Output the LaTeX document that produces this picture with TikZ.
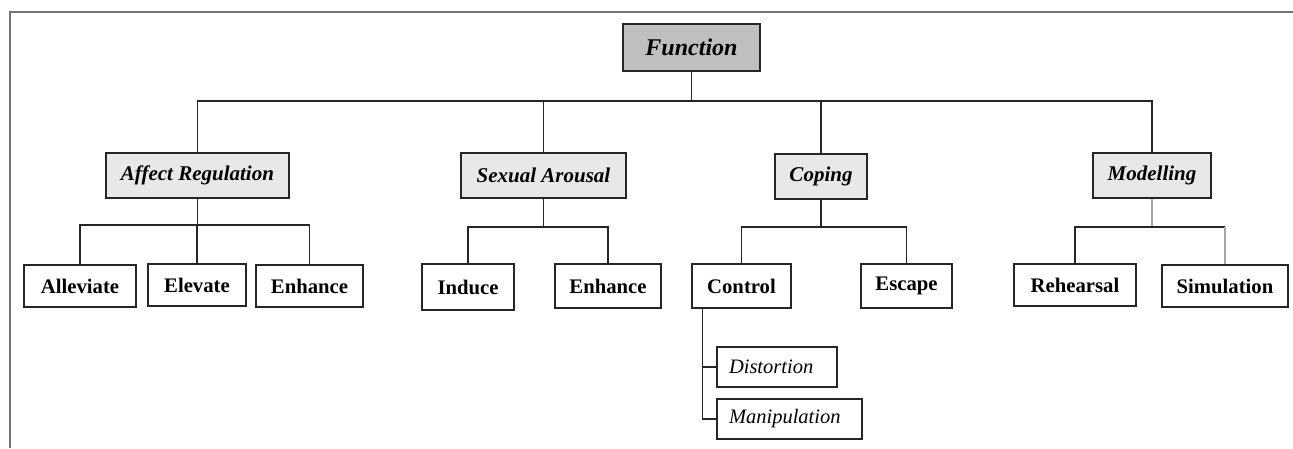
\documentclass[tikz,border=0pt]{standalone}
\usepackage{fontspec}
\setmainfont{Liberation Serif}
\begin{document}
\begin{tikzpicture}[x=1pt,y=-1pt,
 box/.style={draw=black!85, line width=1.4pt, inner sep=0pt, anchor=center},
 rootbox/.style={box, fill=black!25, font=\fontsize{24}{27}\selectfont\bfseries\itshape},
 catbox/.style={box, fill=black!9, font=\fontsize{21}{25}\selectfont\bfseries\itshape},
 leafbox/.style={box, fill=white, font=\fontsize{20.7}{24}\selectfont\bfseries},
 subbox/.style={box, fill=white, inner xsep=12pt, align=left, font=\fontsize{20.5}{24}\selectfont\itshape},
 link/.style={line width=1.4pt, black!85},
 glink/.style={line width=1.4pt, black!35},
 frame/.style={line width=2pt, black!55}]
\useasboundingbox (0,0) rectangle (1293,448);
% frame
\draw[frame] (1293,12) -- (10,12) -- (10,448);
% root
\node[rootbox, minimum width=137pt, minimum height=47pt] (F) at (691.5,47.5) {Function};
% categories
\node[catbox, minimum width=183pt, minimum height=45pt] (AR) at (197.5,175.5) {Affect Regulation};
\node[catbox, minimum width=165pt, minimum height=45pt] (SA) at (543.5,175.5) {Sexual Arousal};
\node[catbox, minimum width=92pt, minimum height=45pt] (CO) at (821,176.5) {Coping};
\node[catbox, minimum width=118pt, minimum height=45pt] (MO) at (1152,175.5) {Modelling};
% leaves
\node[leafbox, minimum width=112pt, minimum height=42pt] (AL) at (80,286) {Alleviate};
\node[leafbox, minimum width=98pt, minimum height=42pt] (EL) at (197,285) {Elevate};
\node[leafbox, minimum width=107pt, minimum height=42pt] (EN) at (309.5,286) {Enhance};
\node[leafbox, minimum width=92pt, minimum height=46pt] (IN) at (468,287) {Induce};
\node[leafbox, minimum width=106pt, minimum height=44pt] (EN2) at (608,286) {Enhance};
\node[leafbox, minimum width=99pt, minimum height=44pt] (CT) at (741.5,286) {Control};
\node[leafbox, minimum width=91pt, minimum height=44pt] (ES) at (906.5,286) {Escape};
\node[leafbox, minimum width=122pt, minimum height=42pt] (RE) at (1075,285) {Rehearsal};
\node[leafbox, minimum width=126pt, minimum height=42pt] (SI) at (1225,286) {Simulation};
% sub-leaves
\node[subbox, text width=96pt, minimum height=40pt] (DI) at (777,367) {Distortion};
\node[subbox, text width=121pt, minimum height=40pt] (MA) at (789.5,419) {Manipulation};
% top level connectors
\coordinate (bar) at (0,101);
\draw[link] (F.south) -- (F.south |- bar);
\draw[link] (AR.north) -- (AR.north |- bar) -- (MO.north |- bar) -- (MO.north);
\draw[link] (SA.north) -- (SA.north |- bar);
\draw[link] (CO.north) -- (CO.north |- bar);
% affect regulation
\coordinate (barA) at (0,225);
\draw[link] (AR.south) -- (AR.south |- barA);
\draw[link] (AL.north) -- (AL.north |- barA) -- (EN.north |- barA) -- (EN.north);
\draw[link] (EL.north) -- (EL.north |- barA);
% sexual arousal
\coordinate (barB) at (0,227);
\draw[link] (SA.south) -- (SA.south |- barB);
\draw[link] (IN.north) -- (IN.north |- barB) -- (EN2.north |- barB) -- (EN2.north);
% coping
\draw[link] (CO.south) -- (CO.south |- barB);
\draw[link] (CT.north) -- (CT.north |- barB) -- (ES.north |- barB) -- (ES.north);
% control sub
\coordinate (cs) at ([xshift=11pt]CT.south west);
\draw[link] (cs) |- (MA.west);
\draw[link] (cs |- DI.west) -- (DI.west);
% modelling
\draw[glink] (MO.south) -- (MO.south |- barB);
\draw[link] (RE.north) -- (RE.north |- barB) -- (SI.north |- barB);
\draw[glink] (SI.north |- barB) -- (SI.north);
\end{tikzpicture}
\end{document}
